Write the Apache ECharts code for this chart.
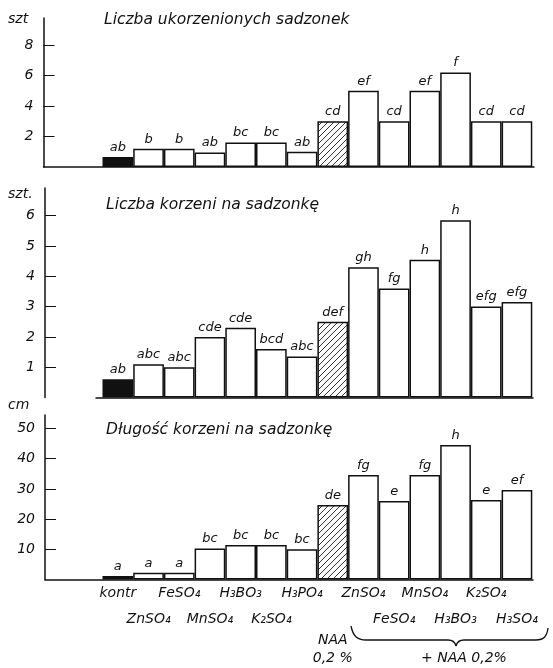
<!DOCTYPE html>
<html><head><meta charset="utf-8">
<script src="https://cdn.jsdelivr.net/npm/echarts@6/dist/echarts.min.js"></script>
<style>html,body{margin:0;padding:0;background:#fff}#c{width:553px;height:668px}</style>
</head><body><div id="c"></div>
<script>
// ---- data ----
const categories = ['kontr','ZnSO₄','FeSO₄','MnSO₄','H₃BO₃','K₂SO₄','H₃PO₄','NAA\n0,2 %','ZnSO₄','FeSO₄','MnSO₄','H₃BO₃','K₂SO₄','H₃SO₄'];
const rootedCuttings = [0.65, 1.2, 1.2, 0.95, 1.6, 1.6, 1.0, 3.0, 5.0, 3.0, 5.0, 6.2, 3.0, 3.0];
const rootedLetters  = ['ab','b','b','ab','bc','bc','ab','cd','ef','cd','ef','f','cd','cd'];
const rootsPerCutting = [0.6, 1.1, 1.0, 2.0, 2.3, 1.6, 1.35, 2.5, 4.3, 3.6, 4.55, 5.85, 3.0, 3.15];
const rootsLetters    = ['ab','abc','abc','cde','cde','bcd','abc','def','gh','fg','h','h','efg','efg'];
const rootLength   = [1.2, 2.2, 2.2, 10.3, 11.4, 11.4, 10.0, 24.7, 34.6, 26.0, 34.6, 44.5, 26.3, 29.6];
const lengthLetters = ['a','a','a','bc','bc','bc','bc','de','fg','e','fg','h','e','ef'];
const yTicks1 = [2, 4, 6, 8];
const yTicks2 = [1, 2, 3, 4, 5, 6];
const yTicks3 = [10, 20, 30, 40, 50];
const panelTitles = ['Liczba ukorzenionych sadzonek', 'Liczba korzeni na sadzonkę', 'Długość korzeni na sadzonkę'];
const unitNames = ['szt', 'szt.', 'cm'];
const groupLabel = '+ NAA 0,2%';
const CONTROL_INDEX = 0, NAA_INDEX = 7;

// ---- layout ----
const FONT = '"DejaVu Sans"';
const unitPx = 30.7, firstBarLeft = 102.5, firstCenter = firstBarLeft + unitPx / 2;
const panels = [
  {values: rootedCuttings, letters: rootedLetters, ticks: yTicks1, left: 43.5, right: 534, top: 18, bottom: 167, pxPerUnit: 15.25, yAxisX: 43.5},
  {values: rootsPerCutting, letters: rootsLetters, ticks: yTicks2, left: 96, right: 533, top: 188, bottom: 397.5, pxPerUnit: 30.3, yAxisX: 45},
  {values: rootLength, letters: lengthLetters, ticks: yTicks3, left: 45, right: 533, top: 415, bottom: 579.5, pxPerUnit: 3.02, yAxisX: 45}
];

// hatch pattern
const hc = document.createElement('canvas');
hc.width = 6; hc.height = 6;
const hx = hc.getContext('2d');
hx.fillStyle = '#fff'; hx.fillRect(0, 0, 6, 6);
hx.strokeStyle = '#333'; hx.lineWidth = 1;
hx.beginPath();
hx.moveTo(0, 6); hx.lineTo(6, 0);
hx.moveTo(-1, 1); hx.lineTo(1, -1);
hx.moveTo(5, 7); hx.lineTo(7, 5);
hx.stroke();
const hatch = {image: hc, repeat: 'repeat'};

const richStyles = {
  r: {fontFamily: FONT, fontStyle: 'italic', fontSize: 14, lineHeight: 25, color: '#111'},
  q: {fontFamily: FONT, fontStyle: 'italic', fontSize: 14, lineHeight: 18, color: '#111'}
};

const grids = [], xAxes = [], yAxes = [], series = [];
panels.forEach((p, k) => {
  grids.push({left: p.left, top: p.top, width: p.right - p.left, height: p.bottom - p.top, containLabel: false});
  const xMin = (p.left - firstCenter) / unitPx, xMax = (p.right - firstCenter) / unitPx;
  xAxes.push({
    type: 'value', gridIndex: k, position: 'bottom',
    min: xMin, max: xMax,
    splitLine: {show: false},
    axisTick: {show: false},
    axisLine: {show: true, onZero: false, lineStyle: {color: '#111', width: 1.5}},
    axisLabel: {show: false}
  });
  yAxes.push({
    type: 'value', gridIndex: k, min: 0, max: (p.bottom - p.top) / p.pxPerUnit,
    offset: p.left - p.yAxisX,
    splitLine: {show: false},
    axisLine: {show: true, onZero: false, lineStyle: {color: '#111', width: 1.5}},
    axisTick: {show: true, inside: true, length: 11, customValues: p.ticks, lineStyle: {color: '#111', width: 1}},
    axisLabel: {show: true, margin: 10, showMinLabel: true, showMaxLabel: true, customValues: p.ticks, color: '#111', fontFamily: FONT, fontStyle: 'italic', fontSize: 14}
  });
  series.push({
    type: 'bar', xAxisIndex: k, yAxisIndex: k, barWidth: '100%',
    data: p.values.map((v, i) => ({
      value: [i, v],
      itemStyle: {color: i === CONTROL_INDEX ? '#111' : (i === NAA_INDEX ? hatch : '#fff'), borderColor: '#111', borderWidth: 1.5}
    })),
    label: {
      show: true, position: 'top', distance: 3,
      formatter: (prm) => p.letters[prm.dataIndex],
      fontFamily: FONT, fontStyle: 'italic', fontSize: 13, color: '#111'
    },
    silent: true, animation: false
  });
});

// category label rows under the last panel (staggered like the original)
const lastP = panels[panels.length - 1], lastK = panels.length - 1;
const idx = categories.map((c, i) => i);
const labelRows = [
  {values: idx.filter(i => i % 2 === 0), margin: 1},
  {values: idx.filter(i => i % 2 === 1 && i !== NAA_INDEX), margin: 27.5},
  {values: [NAA_INDEX], margin: 51.5}
];
labelRows.forEach(row => {
  xAxes.push({
    type: 'value', gridIndex: lastK, position: 'bottom', offset: 0,
    min: (lastP.left - firstCenter) / unitPx, max: (lastP.right - firstCenter) / unitPx,
    splitLine: {show: false}, axisTick: {show: false}, axisLine: {show: false},
    axisLabel: {
      show: true, margin: row.margin, showMinLabel: true, showMaxLabel: true, hideOverlap: false,
      customValues: row.values,
      formatter: (v) => {
        const c = categories[Math.round(v)];
        if (c === undefined) return '';
        return c.split('\n').map(s => (c.indexOf('\n') >= 0 ? '{q|' : '{r|') + s + '}').join('\n');
      },
      rich: richStyles
    }
  });
});

const txt = (x, y, text, align, size) => ({
  type: 'text', silent: true,
  style: {x: x, y: y, text: text, textAlign: align || 'left', textVerticalAlign: 'middle',
          font: 'italic ' + (size || 14) + 'px ' + FONT, fill: '#111'}
});
const braceStyle = {stroke: '#111', fill: null, lineWidth: 1.3};
const bez = (x1, y1, c1x, c1y, c2x, c2y, x2, y2) => ({
  type: 'bezierCurve', silent: true,
  shape: {x1: x1, y1: y1, cpx1: c1x, cpy1: c1y, cpx2: c2x, cpy2: c2y, x2: x2, y2: y2},
  style: braceStyle
});
const seg = (x1, y1, x2, y2) => ({type: 'line', silent: true, shape: {x1: x1, y1: y1, x2: x2, y2: y2}, style: braceStyle});

const graphic = [
  txt(8, 19, unitNames[0]),
  txt(104, 20, panelTitles[0], 'left', 15.5),
  txt(8, 194, unitNames[1]),
  txt(106, 205, panelTitles[1], 'left', 15.5),
  txt(8, 405, unitNames[2]),
  txt(106, 430, panelTitles[2], 'left', 15.5),
  txt(464, 658, groupLabel, 'center'),
  bez(351, 626, 353, 636, 357, 640, 366, 640),
  seg(366, 640, 448, 640),
  bez(448, 640, 453, 640, 455, 642, 456, 646),
  bez(456, 646, 457, 642, 459, 640, 464, 640),
  seg(464, 640, 536, 640),
  bez(536, 640, 544, 640, 547, 636, 548, 628)
];

const chart = echarts.init(document.getElementById('c'), null, {renderer: 'canvas'});
chart.setOption({
  backgroundColor: '#fff',
  animation: false,
  grid: grids, xAxis: xAxes, yAxis: yAxes, series: series, graphic: graphic
});
</script></body></html>
